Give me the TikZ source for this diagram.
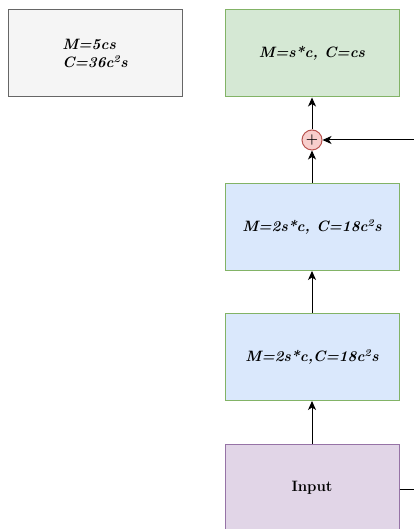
\documentclass[tikz,border=0pt]{standalone}
\usepackage{tikz}
\usepackage{xcolor}
\usetikzlibrary{arrows.meta}

\definecolor{grayfill}{HTML}{F5F5F5}
\definecolor{graydraw}{HTML}{666666}
\definecolor{greenfill}{HTML}{D5E8D4}
\definecolor{greendraw}{HTML}{82B366}
\definecolor{bluefill}{HTML}{DAE8FC}
\definecolor{redfill}{HTML}{F8CECC}
\definecolor{reddraw}{HTML}{B85450}
\definecolor{purplefill}{HTML}{E1D5E7}
\definecolor{purpledraw}{HTML}{9673A6}

\tikzset{
  block/.style={draw, rectangle, minimum width=174pt, minimum height=87pt, inner sep=0pt,
    line width=1pt, font=\fontsize{15}{18}\selectfont\bfseries\itshape},
  addop/.style={draw=reddraw, fill=redfill, circle, minimum size=20pt, inner sep=0pt, line width=1pt},
  arr/.style={-{Stealth[length=9pt,width=8pt,inset=2.5pt]}, line width=1pt}
}

\begin{document}
\begin{tikzpicture}[x=1pt,y=1pt]
        \useasboundingbox (0,0) rectangle (414,529);
        \node[block, fill=grayfill, draw=graydraw, align=left](note) at (95,475.5) {M=5cs\\C=36c\textsuperscript{2}s};
        \node[block, fill=greenfill, draw=greendraw](out) at (312,475.5) {M=s*c, C=cs};
        \node[addop](add) at (312,389) {\fontsize{14}{14}\selectfont\bfseries +};
        \node[block, fill=bluefill, draw=greendraw](mid) at (312,302) {M=2s*c, C=18c\textsuperscript{2}s};
        \node[block, fill=bluefill, draw=greendraw](low) at (312,172) {M=2s*c,C=18c\textsuperscript{2}s};
        \node[block, fill=purplefill, draw=purpledraw, font=\fontsize{15}{18}\selectfont\bfseries](in) at (312,41) {Input};
        \coordinate(skip) at (420,389);
        \coordinate(side) at (420,39);
        \draw[arr](in)--(low);
        \draw[arr](low)--(mid);
        \draw[arr](mid)--(add);
        \draw[arr](add)--(out);
        \draw[arr](skip)--(add);
        \draw[line width=1pt](in.east |- side)--(side);
        \end{tikzpicture}
\end{document}
